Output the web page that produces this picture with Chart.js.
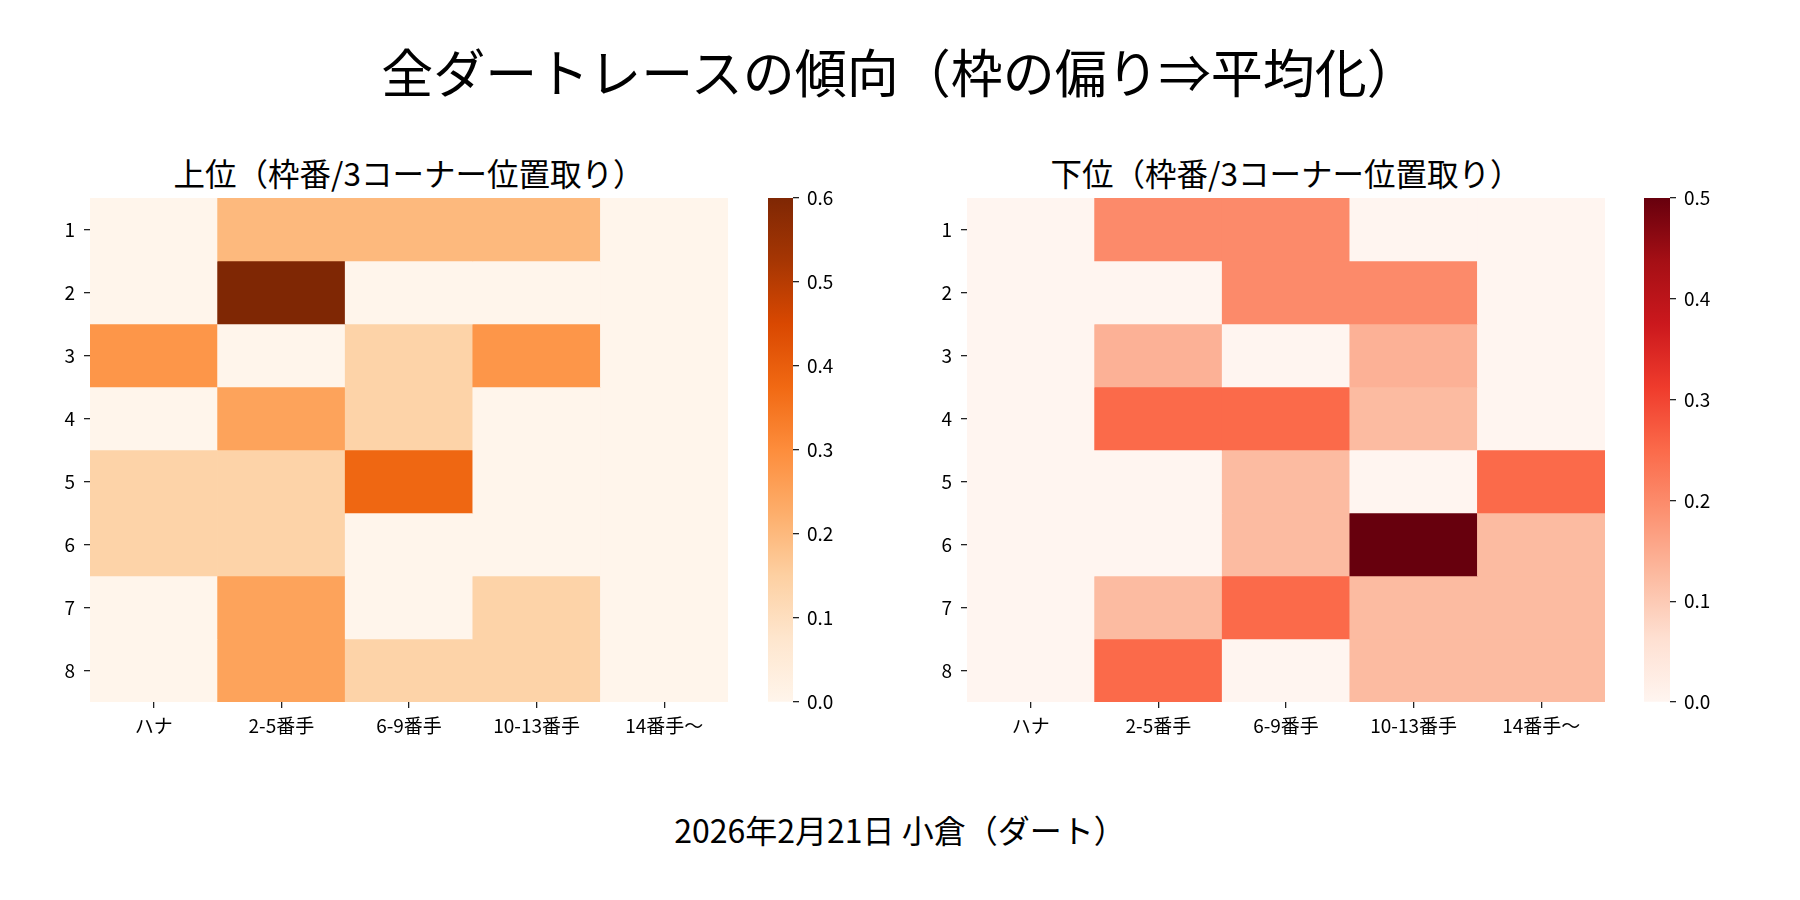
<!DOCTYPE html>
<html>
<head>
<meta charset="utf-8">
<script src="https://cdn.jsdelivr.net/npm/chart.js@4.4.1/dist/chart.umd.min.js"></script>
<style>
  body { margin: 0; background: #fff; font-family: "Noto Sans CJK JP", "Noto Sans", sans-serif; }
  #wrap { position: relative; width: 1800px; height: 900px; overflow: hidden; }
  .txt { position: absolute; transform: translate(-50%, -50%); white-space: nowrap; color: #000; }
  canvas { position: absolute; }
</style>
</head>
<body>
<div id="wrap">
  <div class="txt" style="left:900px; top:70px; font-size:52px;">全ダートレースの傾向（枠の偏り⇒平均化）</div>
  <div class="txt" style="left:409px; top:172px; font-size:31.5px;">上位（枠番/3コーナー位置取り）</div>
  <div class="txt" style="left:1286px; top:172px; font-size:31.5px;">下位（枠番/3コーナー位置取り）</div>
  <div class="txt" style="left:900px; top:829px; font-size:32px;">2026年2月21日 小倉（ダート）</div>
  <canvas id="upper" width="718" height="600" style="left:20px; top:170px;"></canvas>
  <canvas id="upperBar" width="105" height="600" style="left:768px; top:170px;"></canvas>
  <canvas id="lower" width="718" height="600" style="left:897px; top:170px;"></canvas>
  <canvas id="lowerBar" width="105" height="600" style="left:1644px; top:170px;"></canvas>
</div>
<script>
// categories
const positions = ['ハナ', '2-5番手', '6-9番手', '10-13番手', '14番手～'];
const gates = ['1', '2', '3', '4', '5', '6', '7', '8'];

// 上位 shares per gate (rows) and 3rd-corner position (columns)
const upperValues = [
    [0, 0.2, 0.2, 0.2, 0],
    [0, 0.6, 0, 0, 0],
    [0.28, 0, 0.14, 0.28, 0],
    [0, 0.25, 0.14, 0, 0],
    [0.14, 0.14, 0.38, 0, 0],
    [0.14, 0.14, 0, 0, 0],
    [0, 0.25, 0, 0.14, 0],
    [0, 0.25, 0.14, 0.14, 0]
];
// 下位
const lowerValues = [
    [0, 0.2, 0.2, 0, 0],
    [0, 0, 0.2, 0.2, 0],
    [0, 0.14, 0, 0.14, 0],
    [0, 0.25, 0.25, 0.125, 0],
    [0, 0, 0.125, 0, 0.25],
    [0, 0, 0.125, 0.5, 0.125],
    [0, 0.125, 0.25, 0.125, 0.125],
    [0, 0.25, 0, 0.125, 0.125]
];
const upperMax = 0.6;
const lowerMax = 0.5;

// colormap stops (ColorBrewer Oranges / Reds)
const orangesStops = ['#fff5eb', '#fee6ce', '#fdd0a2', '#fdae6b', '#fd8d3c', '#f16913', '#d94801', '#a63603', '#7f2704'];
const redsStops = ['#fff5f0', '#fee0d2', '#fcbba1', '#fc9272', '#fb6a4a', '#ef3b2c', '#cb181d', '#a50f15', '#67000d'];

function hexToRgb(h) {
    return [parseInt(h.substr(1, 2), 16), parseInt(h.substr(3, 2), 16), parseInt(h.substr(5, 2), 16)];
}

function colorAt(stops, t) {
    t = Math.max(0, Math.min(1, t));
    let pos = t * (stops.length - 1);
    let i = Math.min(Math.floor(pos), stops.length - 2);
    let f = pos - i;
    let a = hexToRgb(stops[i]), b = hexToRgb(stops[i + 1]);
    let c = a.map((v, k) => Math.round(v + (b[k] - v) * f));
    return 'rgb(' + c.join(',') + ')';
}

const tickFont = { family: '"Noto Sans CJK JP", "Noto Sans", sans-serif', size: 19 };

function heatmap(id, values, stops, vmax) {
    let datasets = gates.map((g, r) => ({
        label: g,
        data: positions.map(() => [r + 0.5, r + 1.5]),
        backgroundColor: values[r].map(v => colorAt(stops, v / vmax)),
        borderWidth: 0,
        barPercentage: 1,
        categoryPercentage: 1,
        grouped: false
    }));

    new Chart(document.getElementById(id), {
        type: 'bar',
        data: { labels: positions, datasets: datasets },
        options: {
            responsive: false,
            animation: false,
            devicePixelRatio: 1,
            layout: { padding: { top: 28, right: 10, bottom: 0, left: 0 } },
            plugins: { legend: { display: false }, tooltip: { enabled: false } },
            scales: {
                x: {
                    type: 'category',
                    offset: true,
                    grid: { offset: false, drawOnChartArea: false, drawTicks: true, tickLength: 6, color: '#222', lineWidth: 1.3 },
                    border: { display: false },
                    ticks: { color: '#000', font: tickFont, padding: 6, maxRotation: 0 },
                    afterFit: s => { s.height = 68; }
                },
                y: {
                    type: 'linear',
                    reverse: true,
                    min: 0.5,
                    max: 8.5,
                    afterBuildTicks: s => { s.ticks = gates.map((g, i) => ({ value: i + 1 })); },
                    grid: { drawOnChartArea: false, drawTicks: true, tickLength: 6, color: '#222', lineWidth: 1.3 },
                    border: { display: false },
                    ticks: { color: '#000', font: tickFont, padding: 9, callback: v => gates[v - 1] },
                    afterFit: s => { s.width = 70; }
                }
            }
        }
    });
}

function colorbar(id, stops, vmax, axisWidth) {
    new Chart(document.getElementById(id), {
        type: 'bar',
        data: {
            labels: [''],
            datasets: [{
                data: [[0, vmax]],
                borderWidth: 0,
                barPercentage: 1,
                categoryPercentage: 1,
                backgroundColor: function(ctx) {
                    let area = ctx.chart.chartArea;
                    if (!area) return stops[0];
                    let g = ctx.chart.ctx.createLinearGradient(0, area.bottom, 0, area.top);
                    stops.forEach((c, i) => g.addColorStop(i / (stops.length - 1), c));
                    return g;
                }
            }]
        },
        options: {
            responsive: false,
            animation: false,
            devicePixelRatio: 1,
            layout: { padding: { top: 28, right: 0, bottom: 68, left: 0 } },
            plugins: { legend: { display: false }, tooltip: { enabled: false } },
            scales: {
                x: { display: false },
                y: {
                    position: 'right',
                    min: 0,
                    max: vmax,
                    ticks: { stepSize: 0.1, color: '#000', font: tickFont, padding: 8, callback: v => v.toFixed(1) },
                    grid: { drawOnChartArea: false, drawTicks: true, tickLength: 6, color: '#222', lineWidth: 1.3 },
                    border: { display: false },
                    afterFit: s => { s.width = axisWidth; }
                }
            }
        }
    });
}

heatmap('upper', upperValues, orangesStops, upperMax);
colorbar('upperBar', orangesStops, upperMax, 80);
heatmap('lower', lowerValues, redsStops, lowerMax);
colorbar('lowerBar', redsStops, lowerMax, 79);
</script>
</body>
</html>
